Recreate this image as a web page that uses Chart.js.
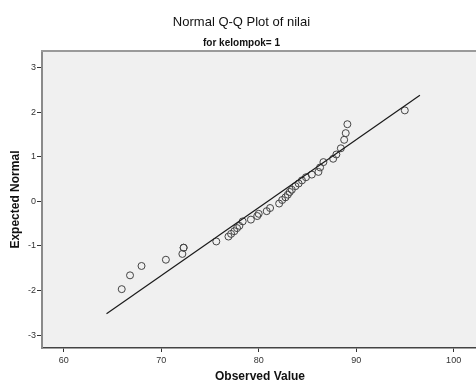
<!DOCTYPE html>
<html>
<head>
<meta charset="utf-8">
<script src="https://cdn.jsdelivr.net/npm/chart.js@4.4.0/dist/chart.umd.min.js"></script>
<style>
  html, body { margin: 0; padding: 0; background: #fff; overflow: hidden; }
  #wrap { width: 476px; height: 381px; overflow: hidden; }
  canvas { display: block; }
</style>
</head>
<body>
<div id="wrap"><canvas id="qq" width="483" height="381"></canvas></div>
<script>
// values
const observed = [65.95, 66.8, 67.98, 70.48, 72.17, 72.3, 72.3, 75.65, 76.9, 77.17,
  77.5, 77.78, 78.02, 78.36, 79.2, 79.85, 80.0, 80.82, 81.17, 82.1,
  82.41, 82.75, 82.99, 83.19, 83.4, 83.77, 84.1, 84.44, 84.85, 85.45,
  86.13, 86.3, 86.64, 87.64, 87.97, 88.43, 88.77, 88.93, 89.1, 94.99];
const expected = [-1.97, -1.66, -1.45, -1.31, -1.18, -1.04, -1.04, -0.9, -0.79, -0.73,
  -0.67, -0.6, -0.55, -0.45, -0.41, -0.33, -0.28, -0.22, -0.15, -0.05,
  0.03, 0.09, 0.15, 0.21, 0.26, 0.34, 0.4, 0.47, 0.54, 0.6,
  0.66, 0.76, 0.88, 0.955, 1.05, 1.19, 1.38, 1.53, 1.73, 2.04];
const lineObserved = [64.39, 96.54];
const lineExpected = [-2.52, 2.38];
const xTicks = [60, 70, 80, 90, 100];
const yTicks = [-3, -2, -1, 0, 1, 2, 3];

const fontFamily = '"Liberation Sans", Arial, sans-serif';

// grey plot background plus the thin top frame line
const plotFrame = {
  id: 'plotFrame',
  beforeDraw(chart) {
    const {ctx, chartArea: a} = chart;
    ctx.save();
    ctx.fillStyle = '#f0f0f0';
    ctx.fillRect(a.left, a.top, a.right - a.left, a.bottom - a.top);
    ctx.restore();
  },
  afterDraw(chart) {
    const {ctx, chartArea: a} = chart;
    ctx.save();
    ctx.strokeStyle = '#9a9a9a';
    ctx.lineWidth = 2;
    ctx.beginPath();
    ctx.moveTo(a.left - 1, a.top);
    ctx.lineTo(a.right, a.top);
    ctx.stroke();
    ctx.restore();
  }
};

const ctx = document.getElementById('qq').getContext('2d');
new Chart(ctx, {
  type: 'scatter',
  data: {
    datasets: [
      {
        data: lineObserved.map((x, i) => ({x, y: lineExpected[i]})),
        showLine: true,
        borderColor: '#1a1a1a',
        borderWidth: 1.2,
        pointRadius: 0
      },
      {
        data: observed.map((x, i) => ({x, y: expected[i]})),
        pointRadius: 3.5,
        pointBorderWidth: 1,
        borderColor: '#444',
        backgroundColor: 'rgba(0,0,0,0)'
      }
    ]
  },
  options: {
    responsive: false,
    animation: false,
    devicePixelRatio: 1,
    layout: {padding: 0},
    plugins: {
      legend: {display: false},
      tooltip: {enabled: false},
      title: {
        display: true,
        text: 'Normal Q-Q Plot of nilai',
        color: '#111',
        font: {family: fontFamily, size: 13, weight: 'normal'},
        padding: {top: 15, bottom: 0}
      },
      subtitle: {
        display: true,
        text: 'for kelompok= 1',
        color: '#111',
        font: {family: fontFamily, size: 10, weight: 'bold'},
        padding: {top: 7, bottom: 1.5}
      }
    },
    scales: {
      x: {
        type: 'linear',
        min: 57.77,
        max: 102.5,
        afterBuildTicks: s => { s.ticks = xTicks.map(v => ({value: v})); },
        afterFit: s => { s.height = 33; },
        grid: {drawOnChartArea: false, tickLength: 4, tickColor: '#333'},
        border: {color: '#444', width: 1.5},
        ticks: {color: '#333', padding: 3, font: {family: fontFamily, size: 9}},
        title: {
          display: true,
          text: 'Observed Value',
          color: '#111',
          font: {family: fontFamily, size: 12, weight: 'bold'},
          padding: {top: 0, bottom: -3}
        }
      },
      y: {
        type: 'linear',
        min: -3.29,
        max: 3.37,
        afterBuildTicks: s => { s.ticks = yTicks.map(v => ({value: v})); },
        afterFit: s => { s.width = 42; },
        grid: {drawOnChartArea: false, tickLength: 5, tickColor: '#333'},
        border: {color: '#8a8a8a', width: 2},
        ticks: {color: '#333', padding: 1, font: {family: fontFamily, size: 9}},
        title: {
          display: true,
          text: 'Expected Normal',
          color: '#111',
          font: {family: fontFamily, size: 12, weight: 'bold'},
          padding: {top: 8, bottom: 0}
        }
      }
    }
  },
  plugins: [plotFrame]
});
</script>
</body>
</html>
